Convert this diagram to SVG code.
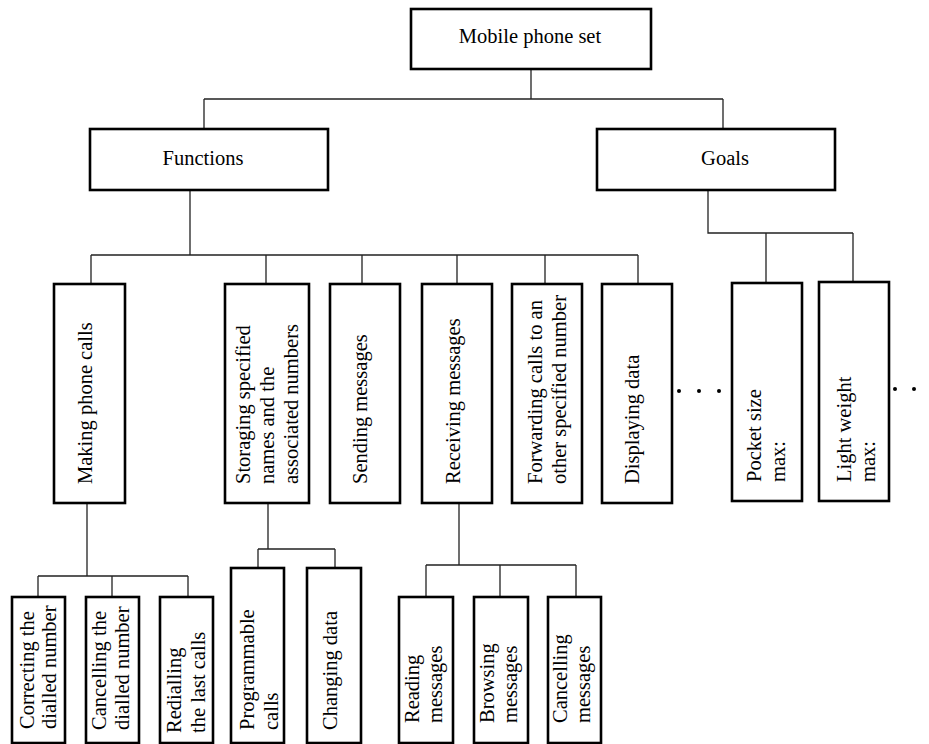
<svg xmlns="http://www.w3.org/2000/svg" width="929" height="744" viewBox="0 0 929 744" font-family="'Liberation Serif', 'Times New Roman', 'DejaVu Serif', serif">
<style>
.box{fill:#fff;stroke:#000;stroke-width:2.6}
.ln{fill:none;stroke:#222;stroke-width:1.3}
text{font-family:'Liberation Serif','Times New Roman','DejaVu Serif',serif;font-size:20.5px;fill:#000}
.c{text-anchor:middle}
.dot{fill:#000}
</style>
<rect width="929" height="744" fill="#fff"/>
<g id="connectors">
<path class="ln" d="M531 69V99M204 99H723M204 99V129M723 99V129"/>
<path class="ln" d="M190 190V255M91 255H638M91 255V284M266 255V284M362 255V284M457 255V284M545 255V284M638 255V284"/>
<path class="ln" d="M708 190V233H853M766 233V283M853 233V283"/>
<path class="ln" d="M87 503V576M38 576H188M38 576V597M112 576V597M188 576V597"/>
<path class="ln" d="M268 503V549M258 549H335M258 549V568M335 549V568"/>
<path class="ln" d="M459 503V565M426 565H576M426 565V597M500 565V597M576 565V597"/>
</g>
<g id="n-mobile"><rect class="box" x="411" y="9" width="240" height="60"/><text class="c" x="530" y="43">Mobile phone set</text></g>
<g id="n-functions"><rect class="box" x="90" y="129" width="238" height="61"/><text class="c" x="203" y="165">Functions</text></g>
<g id="n-goals"><rect class="box" x="597" y="129" width="238" height="61"/><text class="c" x="725" y="165">Goals</text></g>

<g id="n-making"><rect class="box" x="54" y="284" width="71" height="219"/><text transform="translate(92 484) rotate(-90)">Making phone calls</text></g>
<g id="n-storaging"><rect class="box" x="225" y="284" width="84" height="219"/>
<text transform="translate(250 484) rotate(-90)">Storaging specified</text>
<text transform="translate(274 484) rotate(-90)">names and the</text>
<text transform="translate(298 484) rotate(-90)">associated numbers</text></g>
<g id="n-sending"><rect class="box" x="330" y="284" width="70" height="219"/><text transform="translate(367 484) rotate(-90)">Sending messages</text></g>
<g id="n-receiving"><rect class="box" x="422" y="284" width="70" height="219"/><text transform="translate(460 484) rotate(-90)">Receiving messages</text></g>
<g id="n-forwarding"><rect class="box" x="512" y="284" width="70" height="219"/>
<text transform="translate(542 484) rotate(-90)">Forwarding calls to an</text>
<text transform="translate(566 484) rotate(-90)">other specified number</text></g>
<g id="n-displaying"><rect class="box" x="602" y="284" width="70" height="219"/><text transform="translate(639 484) rotate(-90)">Displaying data</text></g>
<g id="dots1"><circle class="dot" cx="679" cy="391" r="2"/><circle class="dot" cx="699" cy="391" r="2"/><circle class="dot" cx="719" cy="391" r="2"/></g>
<g id="n-pocket"><rect class="box" x="732" y="283" width="70" height="218"/>
<text transform="translate(761 482) rotate(-90)">Pocket size</text>
<text transform="translate(785 482) rotate(-90)">max:</text></g>
<g id="n-light"><rect class="box" x="819" y="282" width="70" height="219"/>
<text transform="translate(851 482) rotate(-90)">Light weight</text>
<text transform="translate(875 482) rotate(-90)">max:</text></g>
<g id="dots2"><circle class="dot" cx="895" cy="389" r="2"/><circle class="dot" cx="914" cy="389" r="2"/></g>

<g id="n-correcting"><rect class="box" x="12" y="597" width="53" height="146"/>
<text transform="translate(34 729) rotate(-90)">Correcting the</text>
<text transform="translate(56 729) rotate(-90)">dialled number</text></g>
<g id="n-cancelling"><rect class="box" x="86" y="597" width="53" height="146"/>
<text transform="translate(106 730) rotate(-90)">Cancelling the</text>
<text transform="translate(129 730) rotate(-90)">dialled number</text></g>
<g id="n-redialling"><rect class="box" x="160" y="597" width="53" height="146"/>
<text transform="translate(181 733) rotate(-90)">Redialling</text>
<text transform="translate(205 733) rotate(-90)">the last calls</text></g>
<g id="n-programmable"><rect class="box" x="231" y="568" width="53" height="175"/>
<text transform="translate(254 730) rotate(-90)">Programmable</text>
<text transform="translate(278 730) rotate(-90)">calls</text></g>
<g id="n-changing"><rect class="box" x="307" y="568" width="54" height="175"/>
<text transform="translate(337 730) rotate(-90)">Changing data</text></g>
<g id="n-reading"><rect class="box" x="399" y="597" width="54" height="146"/>
<text transform="translate(419 723) rotate(-90)">Reading</text>
<text transform="translate(442 723) rotate(-90)">messages</text></g>
<g id="n-browsing"><rect class="box" x="474" y="597" width="54" height="146"/>
<text transform="translate(494 723) rotate(-90)">Browsing</text>
<text transform="translate(517 723) rotate(-90)">messages</text></g>
<g id="n-cancelmsg"><rect class="box" x="548" y="597" width="53" height="146"/>
<text transform="translate(567 723) rotate(-90)">Cancelling</text>
<text transform="translate(590 723) rotate(-90)">messages</text></g>
</svg>
